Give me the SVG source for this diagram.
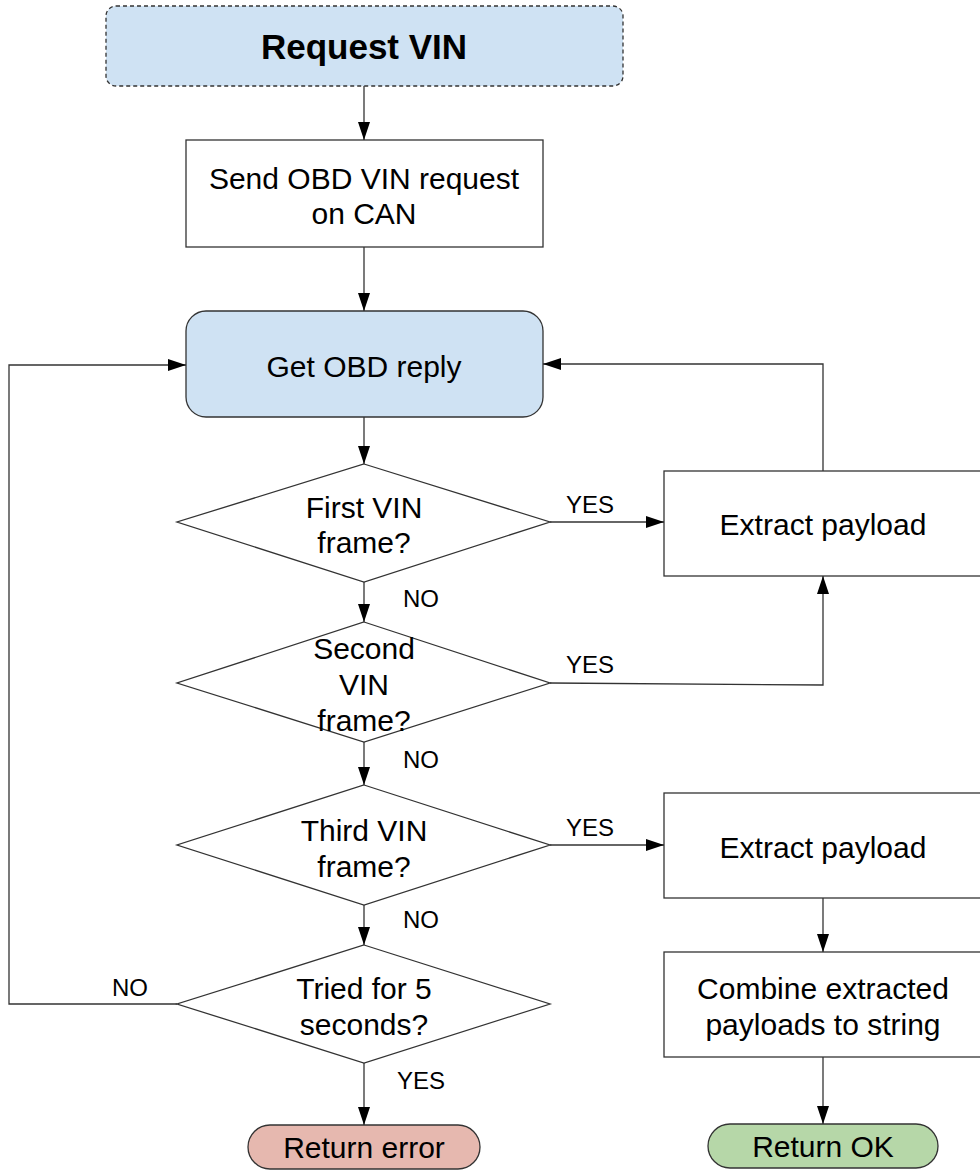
<svg xmlns="http://www.w3.org/2000/svg" width="980" height="1172" viewBox="0 0 980 1172">
<defs>
<marker id="arr" viewBox="0 0 18 12" refX="18" refY="6" markerWidth="18" markerHeight="12" markerUnits="userSpaceOnUse" orient="auto">
<path d="M0,0 L18,6 L0,12 z" fill="#000"/>
</marker>
<style>
.box{fill:#fff;stroke:#333;stroke-width:1.3}
.blue{fill:#cfe2f3;stroke:#333;stroke-width:1.3}
.t{font-family:"Liberation Sans",Arial,sans-serif;font-size:30px;fill:#000;text-anchor:middle}
.lbl{font-family:"Liberation Sans",Arial,sans-serif;font-size:24px;fill:#000;text-anchor:middle}
.c{fill:none;stroke:#333;stroke-width:1.3}
</style>
</defs>
<rect width="980" height="1172" fill="#fff"/>
<g id="n-request">
<rect x="106" y="6" width="517" height="80" rx="10" class="blue" stroke-dasharray="4,3"/>
<text x="364" y="59" class="t" style="font-weight:bold;font-size:35px">Request VIN</text>
</g>
<g id="n-send">
<rect x="186" y="140" width="357" height="107" class="box"/>
<text x="364" y="189" class="t">Send OBD VIN request</text>
<text x="364" y="224" class="t">on CAN</text>
</g>
<g id="n-get">
<rect x="186" y="311" width="357" height="106" rx="20" class="blue"/>
<text x="364" y="377" class="t">Get OBD reply</text>
</g>
<g id="n-d1">
<polygon points="364,464 550,522 364,582 177,522" class="box"/>
<text x="364" y="518" class="t">First VIN</text>
<text x="364" y="553" class="t">frame?</text>
</g>
<g id="n-d2">
<polygon points="364,622 550,683 364,742 177,683" class="box"/>
<text x="364" y="659" class="t">Second</text>
<text x="364" y="695" class="t">VIN</text>
<text x="364" y="731" class="t">frame?</text>
</g>
<g id="n-d3">
<polygon points="364,785 550,845 364,905 177,845" class="box"/>
<text x="364" y="841" class="t">Third VIN</text>
<text x="364" y="877" class="t">frame?</text>
</g>
<g id="n-d4">
<polygon points="364,945 550,1004 364,1063 177,1004" class="box"/>
<text x="364" y="999" class="t">Tried for 5</text>
<text x="364" y="1035" class="t">seconds?</text>
</g>
<g id="n-extract1">
<rect x="664" y="471" width="330" height="105" class="box"/>
<text x="823" y="535" class="t">Extract payload</text>
</g>
<g id="n-extract2">
<rect x="664" y="793" width="330" height="105" class="box"/>
<text x="823" y="858" class="t">Extract payload</text>
</g>
<g id="n-combine">
<rect x="664" y="952" width="330" height="105" class="box"/>
<text x="823" y="999" class="t">Combine extracted</text>
<text x="823" y="1035" class="t">payloads to string</text>
</g>
<g id="n-error">
<rect x="248" y="1125" width="232" height="44" rx="22" fill="#e6b8af" stroke="#333" stroke-width="1.3"/>
<text x="364" y="1158" class="t">Return error</text>
</g>
<g id="n-ok">
<rect x="708" y="1124" width="230" height="44" rx="22" fill="#b6d7a8" stroke="#333" stroke-width="1.3"/>
<text x="823" y="1157" class="t">Return OK</text>
</g>
<g id="connectors">
<path d="M364,86 V140" class="c" marker-end="url(#arr)"/>
<path d="M364,247 V311" class="c" marker-end="url(#arr)"/>
<path d="M364,417 V464" class="c" marker-end="url(#arr)"/>
<path d="M364,582 V622" class="c" marker-end="url(#arr)"/>
<path d="M364,742 V785" class="c" marker-end="url(#arr)"/>
<path d="M364,905 V945" class="c" marker-end="url(#arr)"/>
<path d="M364,1063 V1125" class="c" marker-end="url(#arr)"/>
<path d="M550,522 H664" class="c" marker-end="url(#arr)"/>
<path d="M550,683 L823,685 V576" class="c" marker-end="url(#arr)"/>
<path d="M550,845 H664" class="c" marker-end="url(#arr)"/>
<path d="M823,471 V364 H543" class="c" marker-end="url(#arr)"/>
<path d="M177,1004 H9 V365 H186" class="c" marker-end="url(#arr)"/>
<path d="M823,898 V952" class="c" marker-end="url(#arr)"/>
<path d="M823,1057 V1124" class="c" marker-end="url(#arr)"/>
<text x="590" y="513" class="lbl">YES</text>
<text x="590" y="673" class="lbl">YES</text>
<text x="590" y="836" class="lbl">YES</text>
<text x="421" y="607" class="lbl">NO</text>
<text x="421" y="768" class="lbl">NO</text>
<text x="421" y="928" class="lbl">NO</text>
<text x="421" y="1089" class="lbl">YES</text>
<text x="130" y="996" class="lbl">NO</text>
</g>
</svg>
